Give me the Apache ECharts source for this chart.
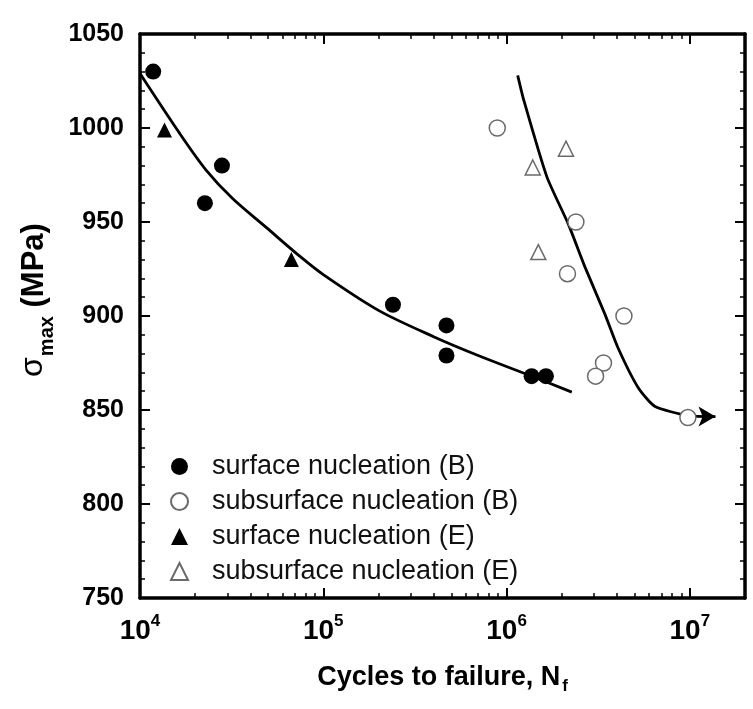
<!DOCTYPE html>
<html><head><meta charset="utf-8">
<script src="https://cdn.jsdelivr.net/npm/echarts@6/dist/echarts.min.js"></script>
<style>html,body{margin:0;padding:0;background:#fff}#c{width:753px;height:709px}</style>
</head><body><div id="c"></div>
<script>
// ---- data (cycles to failure, stress in MPa) ----
var surfaceB = [[1.18e4,1030],[2.26e4,960],[2.8e4,980],[2.4e5,906],[4.7e5,895],[4.7e5,879],[1.37e6,868],[1.64e6,868]];
var subsurfaceB = [[8.9e5,1000],[2.39e6,950],[2.15e6,922.5],[4.37e6,900],[3.38e6,875],[3.06e6,868],[9.76e6,846]];
var surfaceE = [[1.36e4,999],[6.7e4,930]];
var subsurfaceE = [[2.11e6,989],[1.39e6,979],[1.49e6,934]];
var curveSurface = [[1e4,1029],[1.65e4,997],[2.3e4,977.5],[3.2e4,962.5],[4.9e4,947],[7.4e4,932],[1e5,922],[2e5,903],[4e5,889],[7e5,879],[1.37e6,868],[2.27e6,859.5]];
var curveSubsurface = [[1.15e6,1028],[1.24e6,1015],[1.66e6,974],[2.17e6,949],[2.68e6,926],[3.44e6,901],[4.06e6,883],[5.22e6,862],[6.43e6,852],[9.76e6,847],[1.38e7,846.5]];
var xMajorTicks = [1e4,1e5,1e6,1e7];
var xMinorTicks = [2e4,3e4,4e4,5e4,6e4,7e4,8e4,9e4,2e5,3e5,4e5,5e5,6e5,7e5,8e5,9e5,2e6,3e6,4e6,5e6,6e6,7e6,8e6,9e6];
var xRange = [1e4, 2e7];
var legendNames = ['surface nucleation (B)','subsurface nucleation (B)','surface nucleation (E)','subsurface nucleation (E)'];

// x axis is drawn as a decade (log10) value axis
function lg(v){ return Math.log10(v); }
function toLog(arr){ return arr.map(function(p){ return [lg(p[0]), p[1]]; }); }

var FONT = "'Liberation Sans', Arial, Helvetica, sans-serif";
var chart = echarts.init(document.getElementById('c'), null, {renderer:'canvas'});
var lineStyleAxis = {color:'#000', width:3.5};
var majorTickStyle = {color:'#000', width:2};
var minorTickStyle = {color:'#000', width:1.5};
function xAxisBase(pos, showLine){
  return {type:'value', min:lg(xRange[0]), max:lg(xRange[1]), interval:1, position:pos,
    axisLine:{show:showLine, onZero:false, lineStyle:lineStyleAxis},
    splitLine:{show:false}, axisLabel:{show:false}, axisTick:{show:false}};
}
var majorLog = xMajorTicks.map(lg), minorLog = xMinorTicks.map(lg);
var x0 = xAxisBase('bottom', true);
x0.axisTick = {show:true, inside:true, length:10, lineStyle:majorTickStyle, customValues:majorLog};
x0.axisLabel = {show:true, margin:15, customValues:majorLog,
  formatter:function(v){ return '{b|10}{s|' + Math.round(v) + '}'; },
  rich:{ b:{fontFamily:FONT, fontWeight:'bold', fontSize:28, color:'#000', lineHeight:32, verticalAlign:'bottom'},
         s:{fontFamily:FONT, fontWeight:'bold', fontSize:17, color:'#000', lineHeight:17, verticalAlign:'top'} }};
x0.name = '{t|Cycles to failure, N}{f|f}';
x0.nameLocation = 'middle'; x0.nameGap = 66;
x0.nameTextStyle = {rich:{ t:{fontFamily:FONT, fontWeight:'bold', fontSize:27, color:'#000', lineHeight:31, verticalAlign:'top'},
  f:{fontFamily:FONT, fontWeight:'bold', fontSize:17, color:'#000', lineHeight:31, verticalAlign:'bottom', padding:[0,0,0,2]} }};
var x1 = xAxisBase('top', true);
x1.axisTick = {show:true, inside:true, length:10, lineStyle:majorTickStyle, customValues:majorLog};
var x2 = xAxisBase('bottom', false);
x2.axisTick = {show:true, inside:true, length:5, lineStyle:minorTickStyle, customValues:minorLog};
var x3 = xAxisBase('top', false);
x3.axisTick = {show:true, inside:true, length:5, lineStyle:minorTickStyle, customValues:minorLog};

function yAxisBase(pos, labels){
  return {type:'value', min:750, max:1050, interval:50, position:pos,
    axisLine:{show:true, onZero:false, lineStyle:lineStyleAxis},
    axisTick:{show:true, inside:true, length:10, lineStyle:majorTickStyle},
    minorTick:{show:true, splitNumber:5, length:5, lineStyle:minorTickStyle},
    splitLine:{show:false},
    axisLabel:{show:labels, margin:16, fontFamily:FONT, fontWeight:'bold', fontSize:25, color:'#000',
      formatter:function(v){ return String(v); }}};
}
var y0 = yAxisBase('left', true);
y0.name = '{s|\u03c3}{m|max}{t| (MPa)}';
y0.nameLocation = 'middle'; y0.nameGap = 86; y0.nameRotate = 90;
y0.nameTextStyle = {padding:[0,0,0,32], rich:{ s:{fontFamily:FONT, fontSize:32, color:'#000', lineHeight:38, verticalAlign:'bottom'},
  m:{fontFamily:FONT, fontWeight:'bold', fontSize:20, color:'#000', lineHeight:38, verticalAlign:'bottom', padding:[0,0,-8,1]},
  t:{fontFamily:FONT, fontWeight:'bold', fontSize:31, color:'#000', lineHeight:38, verticalAlign:'bottom'} }};
var y1 = yAxisBase('right', false);

function scatter(name, data, symbol, filled){
  return {name:name, type:'scatter', xAxisIndex:0, yAxisIndex:0, data:toLog(data), symbol:symbol,
    symbolSize: symbol === 'triangle' ? 15 : 16,
    itemStyle: filled ? {color:'#000', borderColor:'#000', borderWidth:0, opacity:1}
                      : {color:'#fff', borderColor:'#6a6a6a', borderWidth:1.5, opacity:1},
    z:3};
}

chart.setOption({
  animation:false,
  backgroundColor:'#fff',
  grid:{left:140, top:34, right:8, bottom:111, containLabel:false},
  legend:{data:legendNames, orient:'vertical', left:165, top:446, itemWidth:17, itemHeight:17, itemGap:4,
    selectedMode:false,
    textStyle:{fontFamily:FONT, fontSize:27, color:'#111', lineHeight:31, padding:[0,0,0,19]}},
  xAxis:[x0,x1,x2,x3],
  yAxis:[y0,y1],
  series:[
    scatter(legendNames[0], surfaceB, 'circle', true),
    scatter(legendNames[1], subsurfaceB, 'circle', false),
    scatter(legendNames[2], surfaceE, 'triangle', true),
    scatter(legendNames[3], subsurfaceE, 'triangle', false),
    {type:'line', xAxisIndex:0, yAxisIndex:0, data:toLog(curveSurface), smooth:0.3, showSymbol:false, symbol:'none',
      lineStyle:{color:'#000', width:2.8}, z:2},
    {type:'line', xAxisIndex:0, yAxisIndex:0, data:toLog(curveSubsurface), smooth:0.2,
      symbol:function(v, p){ return p.dataIndex === curveSubsurface.length - 1 ? 'arrow' : 'none'; },
      symbolSize:[15,17], symbolRotate:-90, showAllSymbol:true,
      itemStyle:{color:'#000'}, lineStyle:{color:'#000', width:2.8}, z:2}
  ]
});
</script></body></html>
